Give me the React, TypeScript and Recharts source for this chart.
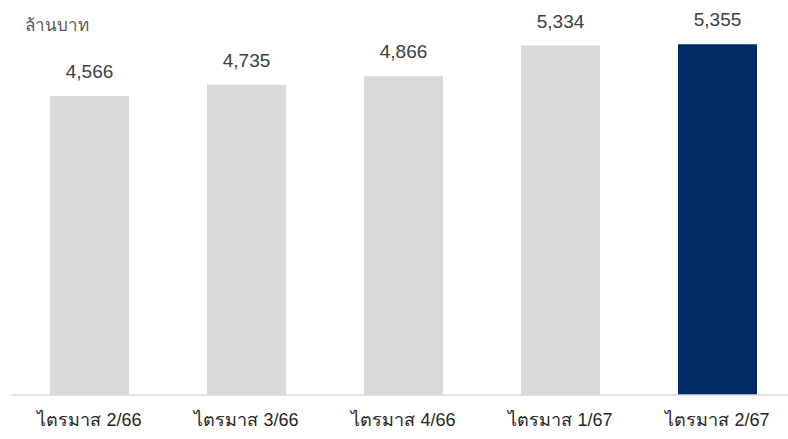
import React from "react";
import { Bar, BarChart, Cell, LabelList, XAxis, YAxis } from "recharts";

const quarters = ["ไตรมาส 2/66", "ไตรมาส 3/66", "ไตรมาส 4/66", "ไตรมาส 1/67", "ไตรมาส 2/67"];
const revenue = [4566, 4735, 4866, 5334, 5355];
const barColors = ["#d9d9d9", "#d9d9d9", "#d9d9d9", "#d9d9d9", "#002b64"];
const unitLabel = "ล้านบาท";

const data = quarters.map((name, i) => ({ name, total: revenue[i] }));

export default function App() {
	return (
		<div
			style={{
				position: "absolute",
				left: 0,
				top: 0,
				width: 800,
				height: 439,
				fontFamily: "'Liberation Sans', Arial, sans-serif"
			}}
		>
			<div
				style={{
					position: "absolute",
					left: 25,
					top: 11,
					fontSize: 17,
					color: "#595959"
				}}
			>
				{unitLabel}
			</div>
			<BarChart
				width={800}
				height={439}
				data={data}
				margin={{ top: 2, right: 4, left: 11, bottom: 0 }}
			>
				<XAxis
					dataKey="name"
					height={44}
					tickLine={false}
					axisLine={{ stroke: "#d9d9d9", strokeWidth: 1.5 }}
					tick={{ fill: "#262626", fontSize: 18 }}
					tickMargin={12}
					interval={0}
				/>
				<YAxis hide domain={[0, 6000]} />
				<Bar dataKey="total" barSize={79} isAnimationActive={false}>
					{data.map((d, i) => (
						<Cell key={d.name} fill={barColors[i]} />
					))}
					<LabelList
						dataKey="total"
						position="top"
						offset={18}
						fill="#404040"
						fontSize={19}
						formatter={(v: any) => Number(v).toLocaleString("en-US")}
					/>
				</Bar>
			</BarChart>
		</div>
	);
}
